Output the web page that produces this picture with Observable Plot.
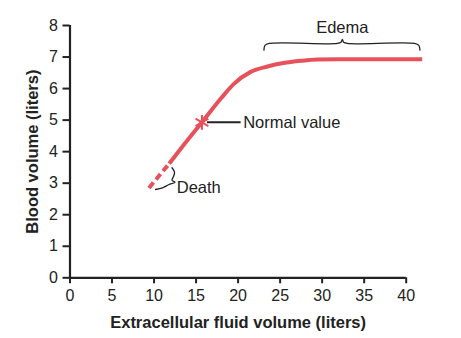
<!DOCTYPE html>
<html>
<head>
<meta charset="utf-8">
<script src="https://cdn.jsdelivr.net/npm/d3@7"></script>
<script src="https://cdn.jsdelivr.net/npm/@observablehq/plot@0.6"></script>
<style>
  body { margin: 0; background: #fff; }
  #chart svg [aria-label="x-axis label"],
  #chart svg [aria-label="y-axis label"] { font-weight: bold; font-size: 16.5px; }
  #chart svg [aria-label="x-axis tick label"],
  #chart svg [aria-label="y-axis tick label"] { font-size: 16px; }
</style>
</head>
<body>
<div id="chart"></div>
<script>
// ---- data ----
const xTicks = [0, 5, 10, 15, 20, 25, 30, 35, 40];
const yTicks = [0, 1, 2, 3, 4, 5, 6, 7, 8];
// dashed (death) segment of the curve
const deathX = [9.4, 11.8];
const deathY = [2.85, 3.62];
// solid part of the curve
const curveX = [11.8, 13.5, 15.7, 18.0, 19.5, 21.5, 23.5, 25.4, 27.5, 29.4, 32.0, 36.0, 41.9];
const curveY = [3.62, 4.20, 4.93, 5.70, 6.15, 6.53, 6.70, 6.81, 6.88, 6.92, 6.93, 6.93, 6.93];
// normal value marker
const normalX = [15.7];
const normalY = [4.93];
// annotation labels
const labelText = ["Normal value", "Edema", "Death"];
const labelX = [20.6, 32.4, 12.7];
const labelY = [4.93, 7.92, 2.86];
// edema brace
const edemaBraceX = [23.07, 23.2, 23.7, 31.8, 32.25, 32.4, 32.55, 33.0, 41.0, 41.5, 41.64];
const edemaBraceY = [7.22, 7.37, 7.43, 7.43, 7.47, 7.56, 7.47, 7.43, 7.43, 7.37, 7.22];
// death brace
const deathBraceX = [12.14, 12.44, 12.26, 12.14, 12.5, 11.73, 11.01, 10.18];
const deathBraceY = [3.49, 3.34, 3.18, 3.09, 3.03, 2.95, 2.85, 2.80];

const red = "#e8505b";
const ink = "#222";

const zip = (xs, ys) => xs.map((x, i) => ({x, y: ys[i]}));
const labels = labelText.map((t, i) => ({t, x: labelX[i], y: labelY[i]}));

const chart = Plot.plot({
  width: 461,
  height: 338,
  marginLeft: 69.5,
  marginRight: 55.3,
  marginTop: 25,
  marginBottom: 60.7,
  style: {fontFamily: "'Liberation Sans', Arial, sans-serif", fontSize: "16px", color: ink, background: "#fff"},
  x: {domain: [0, 40]},
  y: {domain: [0, 8]},
  marks: [
    Plot.axisX({ticks: xTicks, tickSize: 6, tickPadding: 6, tickFormat: d => d, strokeWidth: 2,
      label: "Extracellular fluid volume (liters)", labelAnchor: "center", labelArrow: "none", labelOffset: 50}),
    Plot.axisY({ticks: yTicks, tickSize: 7, tickPadding: 5, tickFormat: d => d, strokeWidth: 2,
      label: "Blood volume (liters)", labelAnchor: "center", labelArrow: "none", labelOffset: 44}),
    Plot.ruleX([0], {y1: 0, y2: 8, stroke: ink, strokeWidth: 2.2}),
    Plot.ruleY([0], {x1: 0, x2: 40, stroke: ink, strokeWidth: 2.2}),
    Plot.line(zip(deathX, deathY), {x: "x", y: "y", stroke: red, strokeWidth: 4, strokeDasharray: "7,4", strokeLinecap: "butt"}),
    Plot.line(zip(curveX, curveY), {x: "x", y: "y", stroke: red, strokeWidth: 4, curve: "monotone-x", strokeLinecap: "butt"}),
    Plot.dot(zip(normalX, normalY), {x: "x", y: "y", symbol: "asterisk", r: 7, stroke: red, strokeWidth: 2}),
    Plot.link(zip(normalX, normalY), {x1: d => d.x + 0.6, x2: labelX[0] - 0.3, y1: "y", y2: "y", stroke: ink, strokeWidth: 2}),
    Plot.line(zip(edemaBraceX, edemaBraceY), {x: "x", y: "y", stroke: ink, strokeWidth: 1.3, curve: "catmull-rom"}),
    Plot.line(zip(deathBraceX, deathBraceY), {x: "x", y: "y", stroke: ink, strokeWidth: 1.3, curve: "catmull-rom"}),
    Plot.text(labels.filter(d => d.t === "Edema"), {x: "x", y: "y", text: "t", fill: ink, fontSize: 16.5, textAnchor: "middle"}),
    Plot.text(labels.filter(d => d.t !== "Edema"), {x: "x", y: "y", text: "t", fill: ink, fontSize: 16.5, textAnchor: "start"})
  ]
});
document.getElementById("chart").append(chart);
</script>
</body>
</html>
